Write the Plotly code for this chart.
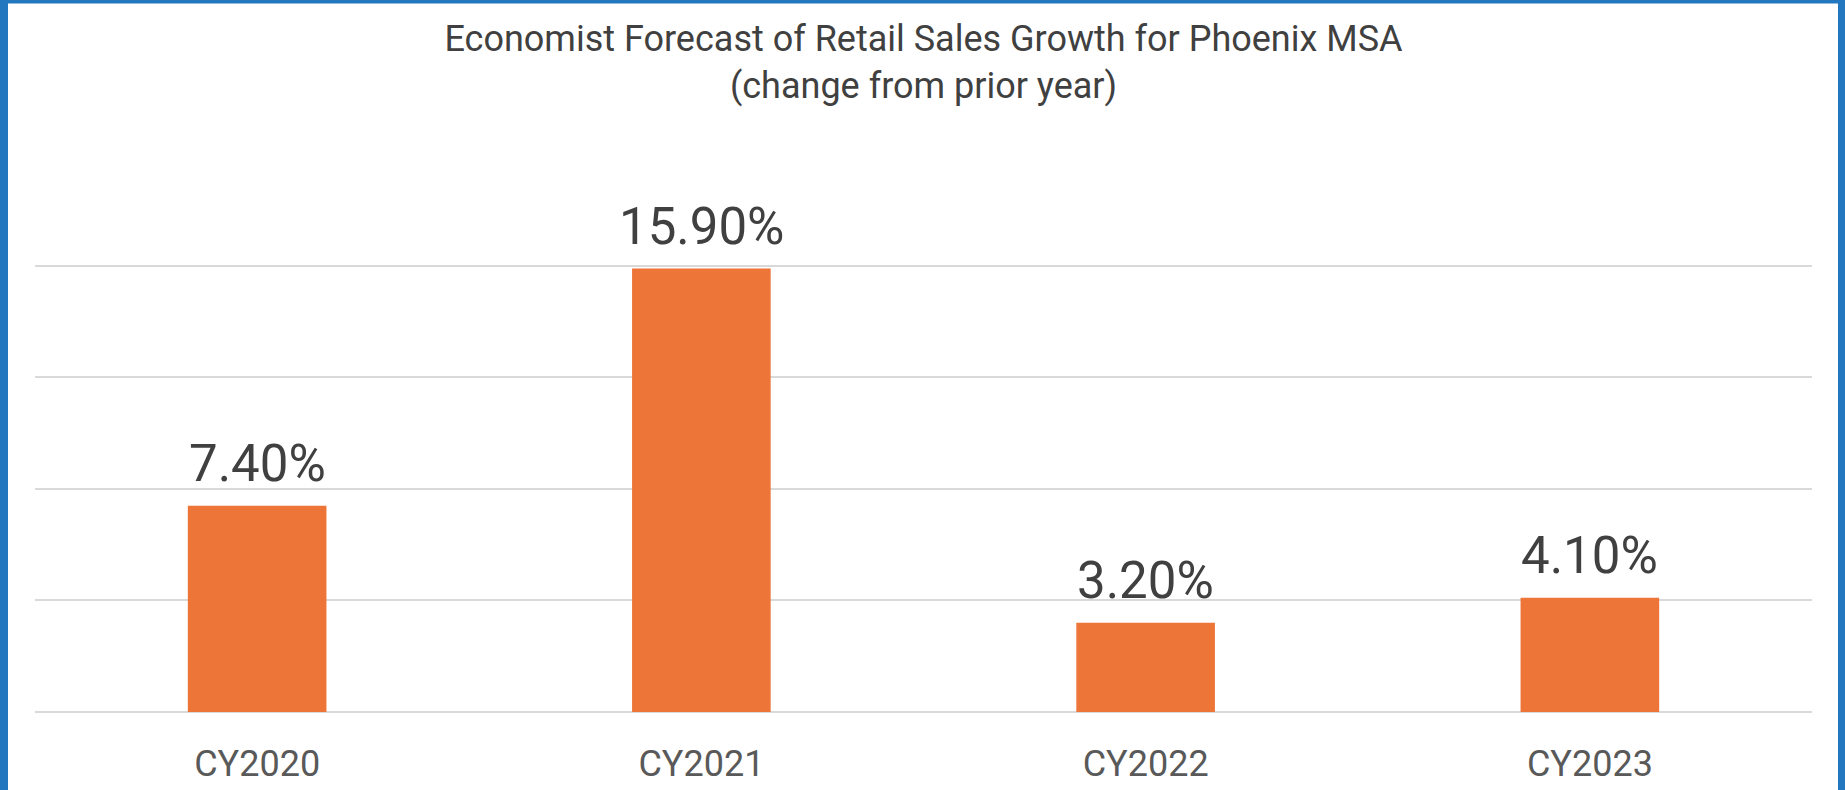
import plotly.graph_objects as go

categories = ["CY2020", "CY2021", "CY2022", "CY2023"]
values = [7.4, 15.9, 3.2, 4.1]
labels = ["7.40%", "15.90%", "3.20%", "4.10%"]

W, H = 1845, 790
ML, MR, MT, MB = 35, 33, 263, 78
PW = W - ML - MR
PH = H - MT - MB
BLUE = "#2277BF"
FONT = "Roboto"

def px_x(x):
    return (x - ML) / PW

def px_y(y):
    return (H - MB - y) / PH

fig = go.Figure()
fig.add_trace(go.Bar(
    x=categories, y=values,
    marker=dict(color="#ED7537", line=dict(width=0)),
    width=0.312,
    hoverinfo="skip",
))

for c, v, t in zip(categories, values, labels):
    fig.add_annotation(x=c, y=v, text=t, showarrow=False, yanchor="middle",
                       yshift=42, font=dict(family=FONT, size=51, color="#404040"))

shapes = [
    dict(type="rect", xref="paper", yref="paper", x0=px_x(0), x1=px_x(8), y0=px_y(H), y1=px_y(0),
         fillcolor=BLUE, line=dict(width=0), layer="above"),
    dict(type="rect", xref="paper", yref="paper", x0=px_x(1838), x1=px_x(W), y0=px_y(H), y1=px_y(0),
         fillcolor=BLUE, line=dict(width=0), layer="above"),
    dict(type="rect", xref="paper", yref="paper", x0=px_x(0), x1=px_x(W), y0=px_y(3.5), y1=px_y(0),
         fillcolor=BLUE, line=dict(width=0), layer="above"),
]

fig.update_layout(
    width=W, height=H,
    margin=dict(l=ML, r=MR, t=MT, b=MB, pad=0, autoexpand=False),
    paper_bgcolor="white", plot_bgcolor="white",
    showlegend=False,
    title=dict(
        text="Economist Forecast of Retail Sales Growth for Phoenix MSA<br>(change from prior year)",
        x=0.5, xanchor="center", xref="paper",
        y=1 - 51 / H, yanchor="middle", yref="container",
        font=dict(family=FONT, size=36, color="#404040"),
    ),
    shapes=shapes,
    xaxis=dict(showgrid=False, showline=False, ticks="", zeroline=False, automargin=False,
               tickfont=dict(family=FONT, size=36, color="#595959"),
               ticklabelstandoff=27),
    yaxis=dict(range=[0, 16.1], tickvals=[0, 4, 8, 12, 16], showticklabels=False,
               showgrid=True, gridcolor="#D9D9D9", gridwidth=1.5, automargin=False,
               zeroline=True, zerolinecolor="#D9D9D9", zerolinewidth=1.5,
               showline=False, ticks=""),
)

fig.write_html("out.html", config={"displayModeBar": False},
               post_script="document.body.style.margin='0';document.body.style.overflow='hidden';")
